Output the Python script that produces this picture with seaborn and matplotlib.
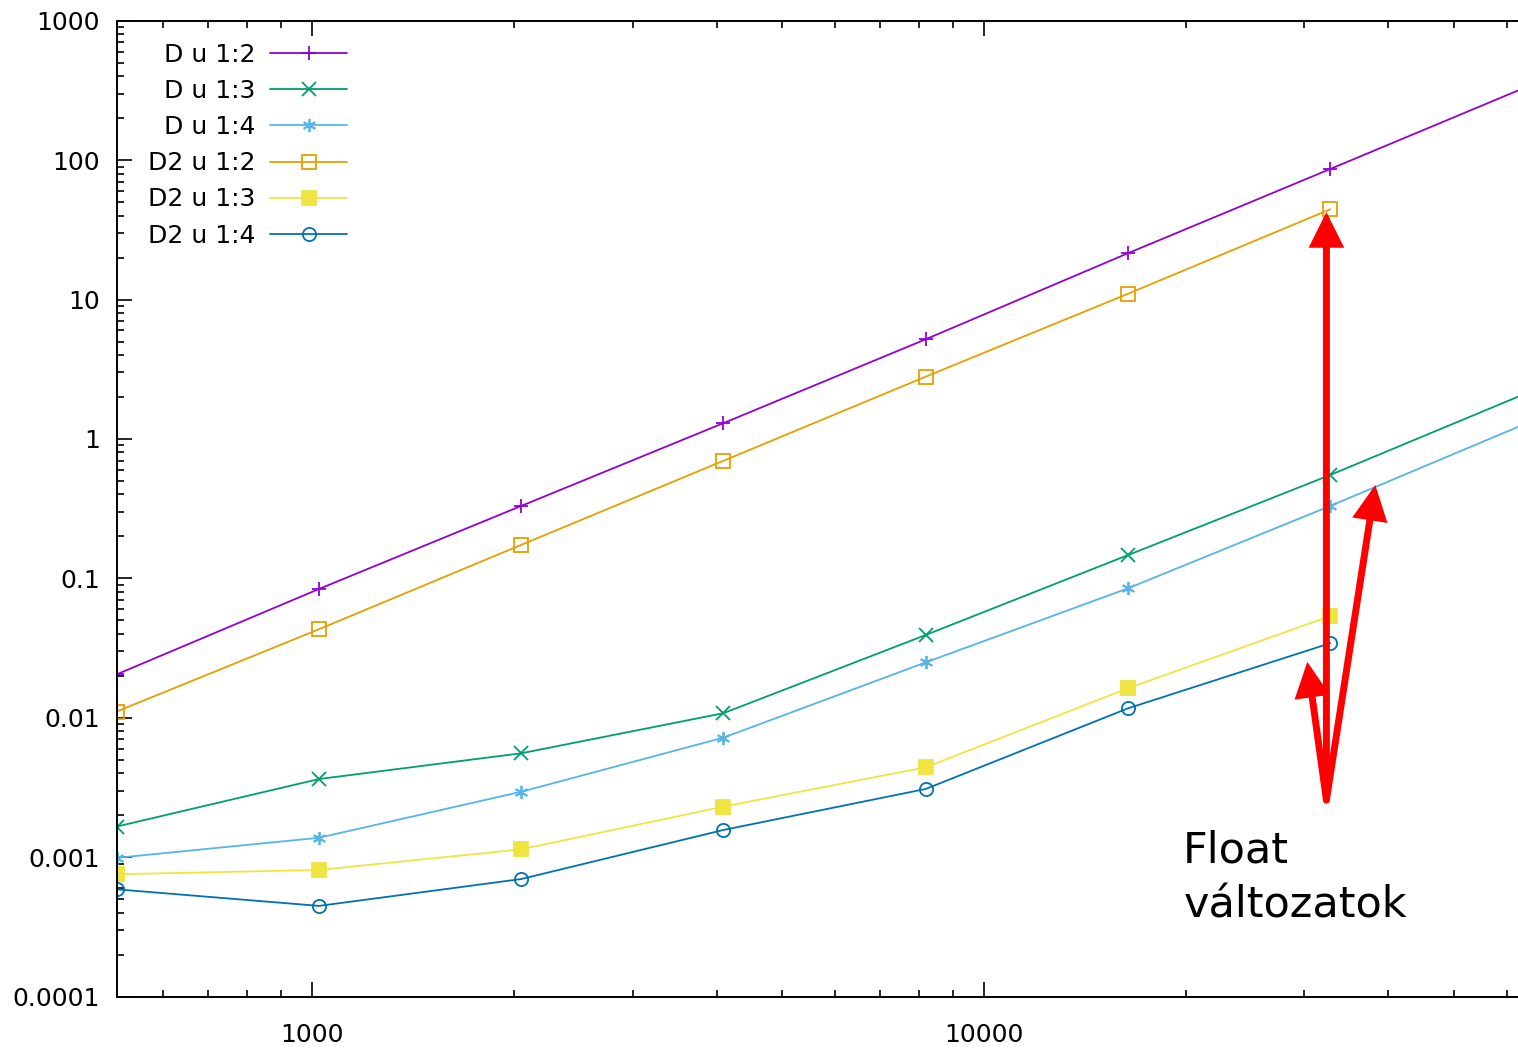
import numpy as np
import pandas as pd
import seaborn as sns
import matplotlib.pyplot as plt
from matplotlib.ticker import LogLocator, NullFormatter

# problem sizes
n_d = [512, 1024, 2048, 4096, 8192, 16384, 32768, 65536]
n_d2 = [512, 1024, 2048, 4096, 8192, 16384, 32768]

# run times
d_12 = [0.0205, 0.0840, 0.331, 1.30, 5.19, 21.5, 86.4, 349]
d_13 = [0.00166, 0.00364, 0.00557, 0.0108, 0.0393, 0.147, 0.552, 2.22]
d_14 = [0.00099, 0.00138, 0.00295, 0.00721, 0.0250, 0.0849, 0.331, 1.35]
d2_12 = [0.0111, 0.0432, 0.174, 0.698, 2.80, 11.0, 44.4]
d2_13 = [0.000755, 0.000811, 0.00114, 0.00231, 0.00442, 0.0163, 0.0537]
d2_14 = [0.000589, 0.000448, 0.000698, 0.00157, 0.00309, 0.0117, 0.0343]

labels = ["D u 1:2", "D u 1:3", "D u 1:4", "D2 u 1:2", "D2 u 1:3", "D2 u 1:4"]
colors = ["#9400D3", "#009E73", "#56B4E9", "#E69F00", "#F0E442", "#0072B2"]

series = [(n_d, d_12), (n_d, d_13), (n_d, d_14), (n_d2, d2_12), (n_d2, d2_13), (n_d2, d2_14)]
markers = ["+", "x", (6, 2, 0), "s", "s", "o"]
fills = [None, None, None, "none", None, "none"]

sns.set_style("ticks")
plt.rcParams["font.family"] = ["DejaVu Sans"]
plt.rcParams["text.color"] = "black"

fig = plt.figure(figsize=(15.18, 10.49), dpi=100)
ax = fig.add_axes([116.7 / 1518, 52.3 / 1049, 1415.8 / 1518, 976 / 1049])

for (xs, ys), lab, col, mk, mf in zip(series, labels, colors, markers, fills):
    df = pd.DataFrame({"n": xs, "t": ys})
    kw = dict(mfc=mf) if mf else {}
    sns.lineplot(data=df, x="n", y="t", ax=ax, color=col, label=lab, marker=mk,
                 markersize=9.5, markeredgewidth=1.3, markeredgecolor=col, lw=1.3, **kw)

ax.set_xscale("log")
ax.set_yscale("log")
ax.set_xlim(512, 65536)
ax.set_ylim(1e-4, 1e3)

ax.set_xticks([1000, 10000], ["1000", "10000"])
yt = [1e-4, 1e-3, 1e-2, 1e-1, 1, 10, 100, 1000]
ax.set_yticks(yt, ["0.0001", "0.001", "0.01", "0.1", "1", "10", "100", "1000"])
ax.xaxis.set_minor_locator(LogLocator(base=10, subs=np.arange(2, 10)))
ax.yaxis.set_minor_locator(LogLocator(base=10, subs=np.arange(2, 10)))
ax.xaxis.set_minor_formatter(NullFormatter())
ax.yaxis.set_minor_formatter(NullFormatter())
ax.tick_params(which="both", direction="in", top=True, right=True, colors="black",
               labelsize=18, width=1.2)
ax.tick_params(which="major", length=10.5)
ax.tick_params(which="minor", length=5)
ax.tick_params(axis="x", pad=19)
ax.tick_params(axis="y", pad=12)
for s in ax.spines.values():
    s.set_linewidth(1.4)
    s.set_color("black")
ax.set_xlabel("")
ax.set_ylabel("")

ax.legend(loc="upper right", bbox_to_anchor=(347 / 1518, 1 - 42.5 / 1049),
          bbox_transform=fig.transFigure, frameon=False, markerfirst=False,
          borderpad=0, borderaxespad=0, fontsize=18, handlelength=3.08,
          handletextpad=0.6, labelspacing=0.49, labelcolor="black")

# red arrows pointing at the float variants
tail = (32340, 0.00258)
for tip in [(32340, 42.4), (38240, 0.468), (30290, 0.0252)]:
    ax.annotate("", xy=tip, xytext=tail,
                arrowprops=dict(arrowstyle="-|>", color="red", lw=5,
                                mutation_scale=44, shrinkA=0, shrinkB=0,
                                capstyle="round", joinstyle="miter"),
                zorder=10)

ax.text(19800, 0.00091, "Float", fontsize=31, va="baseline", ha="left", color="black")
ax.text(19800, 0.000367, "változatok", fontsize=31, va="baseline", ha="left", color="black")

fig.savefig("out.png", dpi=100)
